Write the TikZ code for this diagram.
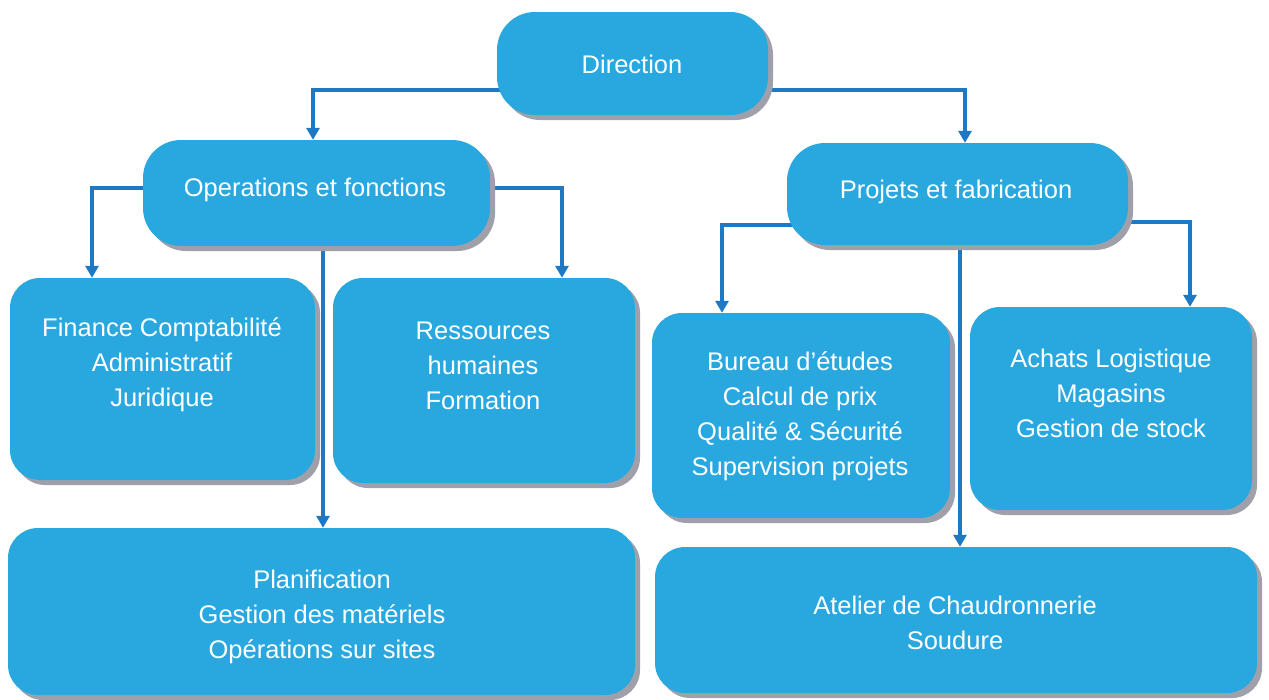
\documentclass[tikz,border=0pt]{standalone}
\usepackage{fontspec}
\setmainfont{Liberation Sans}
\usetikzlibrary{shadows,arrows.meta,backgrounds}
\definecolor{boxblue}{RGB}{41,168,224}
\definecolor{linkblue}{RGB}{30,120,195}
\definecolor{shadowgray}{RGB}{160,160,170}
\begin{document}
\begin{tikzpicture}[x=1pt,y=-1pt,
  orgbox/.style={draw=none, fill=boxblue, rounded corners=#1, inner sep=0pt,
    drop shadow={shadow xshift=5pt, shadow yshift=-5pt, fill=shadowgray, opacity=1}},
  orgbox/.default=30pt,
  orgtext/.style={text=white, font=\fontsize{25.5}{35}\selectfont, align=center, inner sep=0pt},
  link/.style={draw=linkblue, line width=3.2pt},
  arrowlink/.style={link, -{Triangle[width=13pt,length=12pt]}}
]
\useasboundingbox (0,0) rectangle (1269,699);

% boxes
\node[orgbox=38pt, minimum width=271pt, minimum height=103pt] (dir) at (632.5,63.5) {};
\node[orgbox=38pt, minimum width=347pt, minimum height=106pt] (ops) at (316.5,193) {};
\node[orgbox=38pt, minimum width=341pt, minimum height=102pt] (proj) at (957.5,194) {};
\node[orgbox, minimum width=305pt, minimum height=202pt] (fin) at (162.5,379) {};
\node[orgbox, minimum width=302pt, minimum height=205pt] (res) at (484,380.5) {};
\node[orgbox, minimum width=298pt, minimum height=205pt] (bur) at (801,415.5) {};
\node[orgbox, minimum width=282pt, minimum height=203pt] (ach) at (1111,408.5) {};
\node[orgbox, minimum width=627pt, minimum height=167pt] (plan) at (321.5,611.5) {};
\node[orgbox, minimum width=602pt, minimum height=146pt] (atel) at (956,620) {};

% texts
\node[orgtext] (tdir) at (632,64) {Direction};
\node[orgtext] (tops) at (315,190) {Operations et fonctions};
\node[orgtext] (tproj) at (956,192) {Projets et fabrication};
\node[orgtext] (tfin) at (162,365) {Finance Comptabilité\\Administratif\\Juridique};
\node[orgtext] (tres) at (483,366) {Ressources\\humaines\\Formation};
\node[orgtext] (tbur) at (800,416) {Bureau d’études\\Calcul de prix\\Qualité \& Sécurité\\Supervision projets};
\node[orgtext] (tach) at (1111,393.5) {Achats Logistique\\Magasins\\Gestion de stock};
\node[orgtext] (tplan) at (322,617) {Planification\\Gestion des matériels\\Opérations sur sites};
\node[orgtext] (tatel) at (955,623) {Atelier de Chaudronnerie\\Soudure};

% connector start points (hidden inside boxes)
\coordinate (dirl) at (632.5,90);
\coordinate (opsl) at (316.5,188);
\coordinate (opsd) at (323,193);
\coordinate (pjl) at (957.5,225);
\coordinate (pjr) at (957.5,222);
\coordinate (pjd) at (960,194);

\begin{scope}[on background layer]
\draw[arrowlink] (dirl) -| ([xshift=-3.5pt]ops.north);
\draw[arrowlink] (dirl) -| ([xshift=7.5pt]proj.north);
\draw[arrowlink] (opsl) -| ([xshift=-70.5pt]fin.north);
\draw[arrowlink] (opsl) -| ([xshift=78pt]res.north);
\draw[arrowlink] (opsd) -- (opsd |- plan.north);
\draw[arrowlink] (pjl) -| ([xshift=-79pt]bur.north);
\draw[arrowlink] (pjr) -| ([xshift=79pt]ach.north);
\draw[arrowlink] (pjd) -- (pjd |- atel.north);
\end{scope}
\end{tikzpicture}
\end{document}
